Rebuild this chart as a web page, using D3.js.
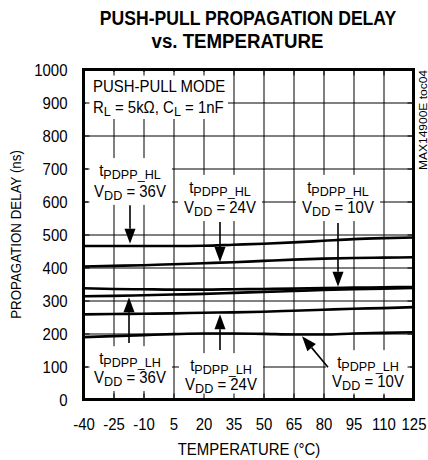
<!DOCTYPE html>
<html><head><meta charset="utf-8">
<script src="https://cdn.jsdelivr.net/npm/d3@7"></script>
<style>body{margin:0;background:#fff} svg{display:block} text{white-space:pre}</style>
</head><body>
<script>
// ---- data ----
const temps = [-40, -25, -10, 5, 20, 35, 50, 65, 80, 95, 110, 125];
const hl36 = [465, 465, 465, 465, 466, 469, 472, 476, 481, 486, 489, 491];
const hl24 = [403, 405, 407, 410, 413, 416, 420, 424, 427, 429, 430, 431];
const hl10 = [337, 335, 334, 333, 333, 334, 335, 336, 338, 339, 340, 341];
const lh36 = [313, 314, 316, 318, 320, 323, 326, 329, 332, 334, 336, 338];
const lh24 = [258, 259, 260, 261, 263, 264, 266, 269, 272, 275, 277, 280];
const lh10 = [189, 192, 195, 198, 200, 200, 199, 197, 197, 200, 202, 204];
const xTicks = [-40, -25, -10, 5, 20, 35, 50, 65, 80, 95, 110, 125];
const yTicks = [0, 100, 200, 300, 400, 500, 600, 700, 800, 900, 1000];

// annotation anchors in data units (temperature, ns)
const notes = [
  {kind: "HL", vdd: "36V", t: -16.75, v1: 677, v2: 614},
  {kind: "HL", vdd: "24V", t: 28.25, v1: 626, v2: 565},
  {kind: "HL", vdd: "10V", t: 87.25, v1: 626, v2: 565},
  {kind: "LH", vdd: "36V", t: -16.75, v1: 107, v2: 50},
  {kind: "LH", vdd: "24V", t: 28.75, v1: 86, v2: 29},
  {kind: "LH", vdd: "10V", t: 102.25, v1: 95, v2: 38}
];
const arrows = [
  {t1: -16.75, v1: 589, t2: -16.75, v2: 472},
  {t1: 28.25, v1: 538, t2: 28.25, v2: 417},
  {t1: 87.25, v1: 535, t2: 87.25, v2: 342},
  {t1: -17.25, v1: 171, t2: -17.25, v2: 310},
  {t1: 28.25, v1: 150, t2: 28.25, v2: 258},
  {t1: 82.25, v1: 98, t2: 69.25, v2: 192}
];

const W = 428, H = 460;
const L = 83.5, R = 413.5, T = 69.5, B = 399.5;
const FONT = "'Liberation Sans', Arial, Helvetica, sans-serif";
const SX = 0.935;

const svg = d3.select("body").append("svg").attr("width", W).attr("height", H)
  .style("font-family", FONT);

const x = d3.scaleLinear().domain([-40, 125]).range([L, R]);
const y = d3.scaleLinear().domain([0, 1000]).range([B, T]);
const fmt = d => String(d);

// grid
const grid = svg.append("g");
grid.append("g").attr("transform", `translate(0,${B})`)
  .call(d3.axisBottom(x).tickValues(xTicks).tickSize(-(B - T)).tickFormat(""))
  .call(g => g.select(".domain").remove())
  .selectAll("line").attr("stroke", "#000").attr("stroke-width", 1);
grid.append("g").attr("transform", `translate(${L},0)`)
  .call(d3.axisLeft(y).tickValues(yTicks).tickSize(-(R - L)).tickFormat(""))
  .call(g => g.select(".domain").remove())
  .selectAll("line").attr("stroke", "#000").attr("stroke-width", 1);

// white boxes behind labels
const boxes = svg.append("g");
boxes.append("rect").attr("x", 86).attr("y", 72).attr("width", 142).attr("height", 47).attr("fill", "#fff");
notes.forEach(n => {
  const cx = x(n.t), y1 = y(n.v1), y2 = y(n.v2);
  boxes.append("rect").attr("x", cx - 42).attr("y", y1 - 18).attr("width", 84)
    .attr("height", (y2 + 8) - (y1 - 18)).attr("fill", "#fff");
});

// data lines
const series = [hl36, hl24, hl10, lh36, lh24, lh10];
const line = d3.line().x((d, i) => x(temps[i])).y(d => y(d)).curve(d3.curveMonotoneX);
svg.append("g").selectAll("path").data(series).join("path")
  .attr("d", line).attr("fill", "none").attr("stroke", "#000").attr("stroke-width", 2.6);

// arrows
const ag = svg.append("g");
arrows.forEach(a => {
  const x1 = x(a.t1), y1 = y(a.v1), x2 = x(a.t2), y2 = y(a.v2);
  const dx = x2 - x1, dy = y2 - y1, len = Math.hypot(dx, dy);
  const ux = dx / len, uy = dy / len, hl = 15, hw = 5.5;
  const bx = x2 - ux * hl, by = y2 - uy * hl;
  ag.append("line").attr("x1", x1).attr("y1", y1).attr("x2", bx).attr("y2", by)
    .attr("stroke", "#000").attr("stroke-width", 1.6);
  ag.append("path").attr("d", `M${x2},${y2}L${bx - uy * hw},${by + ux * hw}L${bx + uy * hw},${by - ux * hw}Z`)
    .attr("fill", "#000");
});

// inner ticks + tick labels
const styleTicks = g => { g.select(".domain").remove(); g.selectAll("line").attr("stroke", "#000").attr("stroke-width", 1); };
const xb = svg.append("g").attr("transform", `translate(0,${B})`)
  .call(d3.axisBottom(x).tickValues(xTicks).tickFormat(fmt).tickSizeInner(-6).tickSizeOuter(0).tickPadding(0))
  .call(styleTicks);
xb.selectAll("text").attr("y", 31).attr("dy", null).attr("fill", "#000")
  .attr("font-size", 16).attr("font-family", FONT).attr("transform", `scale(${SX},1)`);
const yl = svg.append("g").attr("transform", `translate(${L},0)`)
  .call(d3.axisLeft(y).tickValues(yTicks).tickFormat(fmt).tickSizeInner(-6).tickSizeOuter(0).tickPadding(0))
  .call(styleTicks);
yl.selectAll("text").attr("x", -16 / SX).attr("dy", null).attr("y", 5.6).attr("fill", "#000")
  .attr("font-size", 16).attr("font-family", FONT).attr("transform", `scale(${SX},1)`);
svg.append("g").attr("transform", `translate(0,${T})`)
  .call(d3.axisTop(x).tickValues(xTicks).tickSizeInner(-6).tickSizeOuter(0).tickFormat(""))
  .call(styleTicks);
svg.append("g").attr("transform", `translate(${R},0)`)
  .call(d3.axisRight(y).tickValues(yTicks).tickSizeInner(-6).tickSizeOuter(0).tickFormat(""))
  .call(styleTicks);

// frame
svg.append("rect").attr("x", L).attr("y", T).attr("width", R - L).attr("height", B - T)
  .attr("fill", "none").attr("stroke", "#000").attr("stroke-width", 3);

// text helper
function rich(px, py, parts, opts = {}) {
  const size = opts.size || 16, sub = opts.sub || 13.5, sx = opts.sx || SX;
  const g = svg.append("g").attr("transform", `translate(${px},${py}) scale(${sx},1)${opts.rot ? " rotate(" + opts.rot + ")" : ""}`);
  const t = g.append("text").attr("text-anchor", opts.anchor || "middle")
    .attr("font-size", size).attr("fill", "#000").attr("font-weight", opts.weight || null);
  let shifted = false;
  parts.forEach(p => {
    const isSub = Array.isArray(p);
    const s = isSub ? p[0] : p;
    const ts = t.append("tspan").text(s);
    if (isSub) { ts.attr("font-size", sub); if (!shifted) { ts.attr("dy", 3); shifted = true; } }
    else if (shifted) { ts.attr("dy", -3); shifted = false; }
  });
  return t;
}

// title
rich(248, 25, ["PUSH-PULL PROPAGATION DELAY"], {size: 21, weight: "bold", sx: 0.838});
rich(237.5, 48, ["vs. TEMPERATURE"], {size: 21, weight: "bold", sx: 0.89});

// mode box
rich(93, 92, ["PUSH-PULL MODE"], {anchor: "start"});
rich(93, 113, ["R", ["L"], " = 5kΩ, C", ["L"], " = 1nF"], {anchor: "start"});

// curve labels
notes.forEach(n => {
  rich(x(n.t), y(n.v1), ["t", ["PDPP_" + n.kind]]);
  rich(x(n.t), y(n.v2), ["V", ["DD"], " = " + n.vdd]);
});

// axis titles
rich(249, 455, ["TEMPERATURE (°C)"]);
svg.append("g").attr("transform", `translate(21,${(T + B) / 2}) rotate(-90) scale(0.89,1)`)
  .append("text").attr("text-anchor", "middle").attr("font-size", 15).attr("fill", "#000")
  .text("PROPAGATION DELAY (ns)");
svg.append("g").attr("transform", `translate(427,70) rotate(-90) scale(1.09,1)`)
  .append("text").attr("text-anchor", "end").attr("font-size", 11).attr("fill", "#000")
  .text("MAX14900E toc04");
</script>
</body></html>
